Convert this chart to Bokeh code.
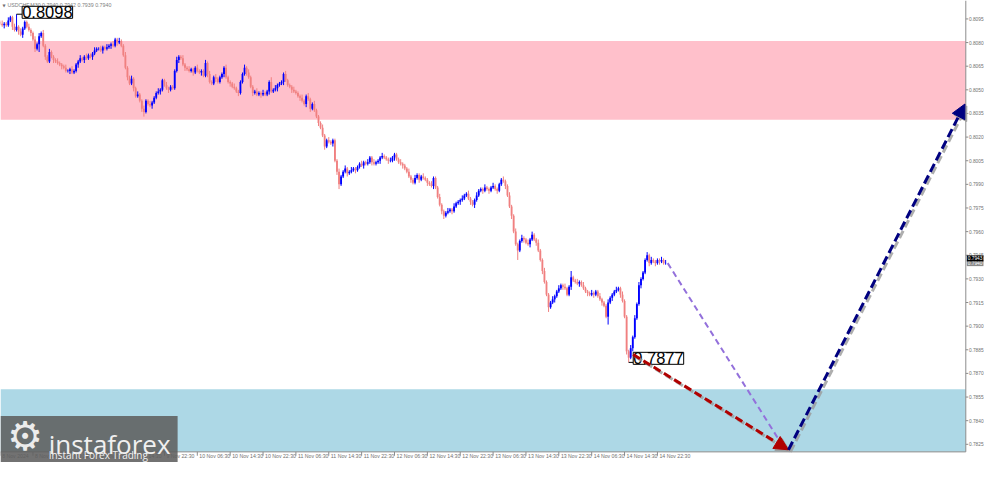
import numpy as np
from bokeh.plotting import figure
from bokeh.models import (BoxAnnotation, Label, Arrow, NormalHead, ColumnDataSource)
from bokeh.core.properties import value
from bokeh.embed import file_html
from bokeh.resources import INLINE

# ---------------- data ----------------
chart_title = "USDCHF,M30  0.7940 0.7942 0.7939 0.7940"

first_open_pips = 8093
close_pips = [
    8092, 8091, 8092, 8091, 8094, 8096, 8090, 8088, 8090, 8087,
    8085, 8089, 8093, 8090, 8088, 8086, 8082, 8076, 8079, 8084,
    8086, 8078, 8071, 8068, 8074, 8071, 8069, 8068, 8067, 8066,
    8065, 8064, 8062, 8062, 8063, 8061, 8062, 8066, 8068, 8070,
    8069, 8071, 8070, 8072, 8071, 8073, 8075, 8076, 8076, 8075,
    8077, 8076, 8077, 8078, 8079, 8078, 8082, 8080, 8081, 8078,
    8072, 8064, 8058, 8054, 8057, 8051, 8046, 8047, 8043, 8038,
    8036, 8043, 8041, 8040, 8042, 8045, 8048, 8049, 8050, 8056,
    8053, 8051, 8050, 8052, 8051, 8062, 8069, 8071, 8070, 8066,
    8064, 8063, 8062, 8063, 8061, 8064, 8062, 8061, 8062, 8059,
    8067, 8060, 8055, 8054, 8058, 8057, 8055, 8058, 8060, 8064,
    8058, 8055, 8054, 8052, 8051, 8049, 8048, 8055, 8060, 8064,
    8061, 8058, 8052, 8048, 8049, 8047, 8048, 8047, 8048, 8047,
    8049, 8055, 8049, 8050, 8051, 8053, 8054, 8055, 8060, 8056,
    8053, 8052, 8050, 8049, 8048, 8046, 8045, 8043, 8041, 8046,
    8044, 8038, 8041, 8037, 8033, 8029, 8026, 8021, 8014, 8018,
    8017, 8016, 8018, 8005, 7998, 7990, 7995, 7998, 8000, 7997,
    7998, 7999, 8000, 7999, 8001, 8003, 8002, 8004, 8003, 8004,
    8007, 8004, 8003, 8004, 8005, 8007, 8008, 8007, 8006, 8005,
    8005, 8007, 8009, 8006, 8004, 8003, 8002, 8000, 7998, 7995,
    7993, 7991, 7994, 7996, 7993, 7995, 7994, 7993, 7991, 7990,
    7989, 7994, 7988, 7982, 7977, 7973, 7970, 7972, 7973, 7974,
    7973, 7976, 7978, 7979, 7980, 7981, 7983, 7984, 7981, 7979,
    7977, 7980, 7983, 7986, 7987, 7986, 7988, 7987, 7986, 7988,
    7989, 7987, 7986, 7990, 7993, 7992, 7989, 7983, 7976, 7970,
    7960, 7952, 7948, 7954, 7956, 7955, 7953, 7952, 7955, 7958,
    7955, 7953, 7948, 7942, 7935, 7928, 7920, 7912, 7915, 7917,
    7919, 7922, 7924, 7926, 7925, 7924, 7920, 7925, 7931, 7929,
    7928, 7927, 7928, 7926, 7924, 7922, 7921, 7920, 7921, 7920,
    7922, 7919, 7917, 7915, 7913, 7906, 7915, 7918, 7920, 7922,
    7923, 7924, 7920, 7916, 7906, 7884, 7880, 7886, 7893, 7905,
    7914, 7926, 7930, 7934, 7942, 7945, 7940, 7942, 7941, 7940,
    7942, 7941, 7942, 7940, 7940,
]
wick_up_pips = [
    1, 2, 1, 1, 2, 1, 1, 2, 8, 1,
    2, 1, 1, 1, 2, 1, 1, 2, 1, 2,
    1, 2, 1, 1, 2, 1, 1, 1, 2, 1,
    1, 1, 2, 1, 1, 2, 1, 1, 1, 2,
    1, 1, 2, 1, 1, 1, 2, 1, 1, 2,
    1, 1, 2, 1, 1, 2, 1, 1, 2, 1,
    1, 2, 1, 1, 2, 1, 1, 2, 1, 1,
    2, 1, 1, 2, 1, 1, 1, 2, 1, 1,
    1, 2, 1, 1, 1, 1, 2, 1, 1, 2,
    1, 1, 2, 1, 1, 1, 2, 1, 1, 1,
    2, 1, 2, 1, 1, 2, 1, 1, 1, 1,
    2, 1, 1, 1, 2, 1, 1, 1, 1, 2,
    1, 2, 1, 1, 1, 2, 1, 1, 2, 1,
    1, 1, 3, 1, 2, 1, 1, 1, 1, 2,
    1, 1, 1, 2, 1, 1, 1, 2, 1, 1,
    2, 1, 1, 2, 1, 1, 1, 2, 1, 1,
    2, 1, 1, 1, 1, 2, 1, 1, 2, 1,
    1, 2, 1, 1, 1, 1, 2, 1, 1, 2,
    1, 1, 2, 1, 1, 1, 2, 1, 1, 1,
    2, 1, 1, 1, 1, 2, 1, 1, 1, 2,
    1, 1, 2, 1, 1, 1, 2, 1, 1, 1,
    2, 1, 1, 1, 2, 1, 1, 1, 2, 1,
    1, 2, 1, 1, 1, 2, 1, 1, 2, 1,
    1, 1, 2, 1, 1, 1, 2, 1, 1, 1,
    2, 1, 1, 1, 1, 2, 1, 1, 2, 1,
    1, 2, 1, 1, 2, 1, 1, 2, 1, 2,
    1, 1, 2, 1, 1, 2, 1, 1, 1, 2,
    1, 1, 2, 1, 1, 2, 1, 1, 4, 1,
    1, 2, 1, 1, 2, 1, 1, 1, 2, 1,
    1, 1, 2, 1, 1, 1, 2, 1, 1, 1,
    2, 1, 1, 2, 1, 1, 1, 2, 1, 2,
    1, 2, 1, 1, 1, 2, 1, 2, 1, 1,
    1, 1, 2, 1, 2,
]
wick_dn_pips = [
    1, 1, 2, 1, 1, 1, 2, 1, 1, 2,
    1, 2, 1, 1, 1, 2, 1, 2, 1, 5,
    1, 1, 2, 1, 1, 1, 2, 1, 1, 1,
    2, 1, 1, 1, 2, 1, 1, 1, 2, 1,
    1, 2, 1, 1, 1, 2, 1, 1, 1, 1,
    2, 1, 1, 1, 2, 1, 1, 2, 1, 1,
    1, 1, 2, 1, 1, 2, 1, 1, 1, 2,
    3, 1, 1, 1, 2, 1, 1, 1, 2, 1,
    1, 1, 2, 1, 1, 1, 1, 2, 1, 1,
    2, 1, 1, 1, 2, 1, 1, 1, 2, 1,
    1, 2, 1, 1, 1, 2, 1, 1, 1, 2,
    1, 1, 2, 1, 1, 1, 2, 1, 1, 1,
    2, 1, 1, 2, 1, 1, 1, 2, 1, 1,
    1, 2, 1, 1, 1, 2, 1, 1, 2, 1,
    1, 1, 2, 1, 1, 1, 2, 1, 1, 2,
    1, 2, 1, 1, 1, 2, 1, 1, 2, 1,
    1, 1, 2, 1, 2, 3, 1, 1, 1, 2,
    1, 1, 1, 2, 1, 1, 1, 2, 1, 1,
    1, 2, 1, 1, 1, 2, 1, 1, 1, 2,
    1, 1, 2, 1, 1, 1, 2, 1, 1, 1,
    2, 1, 1, 1, 2, 1, 1, 1, 2, 1,
    1, 2, 1, 1, 1, 2, 2, 1, 1, 1,
    2, 1, 1, 1, 2, 1, 1, 1, 1, 2,
    1, 2, 1, 1, 1, 2, 1, 1, 2, 1,
    1, 1, 2, 1, 1, 1, 2, 1, 1, 2,
    1, 1, 6, 1, 1, 2, 1, 1, 2, 1,
    1, 2, 1, 1, 2, 1, 1, 3, 1, 1,
    2, 1, 1, 1, 2, 1, 1, 1, 2, 1,
    1, 1, 2, 1, 1, 1, 2, 1, 1, 2,
    1, 1, 1, 2, 1, 1, 5, 1, 2, 1,
    1, 1, 2, 1, 1, 2, 3, 1, 2, 1,
    1, 1, 2, 1, 1, 1, 2, 1, 1, 2,
    1, 2, 1, 1, 1,
]

time_tick_bars = [0, 16, 32, 48, 64, 80, 96, 112, 128, 144, 160, 176, 192, 208,
                  224, 240, 256, 272, 288, 304, 320]
time_tick_labels = ["8 Nov 2024", "8 Nov 14:30", "8 Nov 22:30", "9 Nov 06:30",
                    "9 Nov 14:30", "9 Nov 22:30", "10 Nov 06:30", "10 Nov 14:30",
                    "10 Nov 22:30", "11 Nov 06:30", "11 Nov 14:30", "11 Nov 22:30",
                    "12 Nov 06:30", "12 Nov 14:30", "12 Nov 22:30", "13 Nov 06:30",
                    "13 Nov 14:30", "13 Nov 22:30", "14 Nov 06:30", "14 Nov 14:30",
                    "14 Nov 22:30"]
price_ticks = [0.7825, 0.7840, 0.7855, 0.7870, 0.7885, 0.7900, 0.7915, 0.7930,
               0.7945, 0.7960, 0.7975, 0.7990, 0.8005, 0.8020, 0.8035, 0.8050,
               0.8065, 0.8080, 0.8095]

resistance_zone = [0.8031, 0.8081]
support_zone_top = 0.7860

marked_high_bar, marked_high_price, marked_high_text = 8, 0.8098, "0.8098"
marked_low_bar, marked_low_price, marked_low_text = 306, 0.7877, "0.7877"

path_purple_bars = [325.0, 381.5]
path_purple_prices = [0.7940, 0.7823]
path_red_bars = [308.2, 383.8]
path_red_prices = [0.7882, 0.78215]
path_navy_bars = [383.8, 469.7]
path_navy_prices = [0.78215, 0.8041]

price_tag_values = [0.7940, 0.7943]
price_tag_texts = ["0.7940", "0.7943"]

# ---------------- layout helpers (reference pixel -> data) ----------------
PX_BAR = 2.0875
PX_PRICE = 6.135e-5
K_AT_0 = 0.19
P_AT_0 = 0.81067


def kx(X):
    return K_AT_0 + X / PX_BAR


def py(Y):
    return P_AT_0 - Y * PX_PRICE


AXIS_X = kx(981)      # right price scale line
AXIS_Y = py(467)      # bottom time scale line

# ---------------- candles ----------------
close = np.array(close_pips, dtype=float) / 1e4
opens = np.concatenate([[first_open_pips], close_pips[:-1]]).astype(float) / 1e4
hi = np.maximum(opens, close) + np.array(wick_up_pips) / 1e4
lo = np.minimum(opens, close) - np.array(wick_dn_pips) / 1e4
bars = np.arange(len(close))
colors = np.where(close >= opens, "#0000FF", "#F08080")
body_bot = np.minimum(opens, close)
body_top = np.maximum(np.maximum(opens, close), body_bot + 0.000015)

src = ColumnDataSource(dict(x=bars, hi=hi, lo=lo, top=body_top, bot=body_bot, c=colors))

p = figure(width=984, height=462, x_range=(kx(0), kx(1000)), y_range=(py(478), py(0)),
           output_backend="svg", toolbar_location=None,
           x_axis_location=None, y_axis_location=None,
           min_border_left=0, min_border_top=0, min_border_right=0, min_border_bottom=0)
p.background_fill_color = "white"
p.border_fill_color = "white"
p.outline_line_color = None
p.grid.visible = False

# zones
p.add_layout(BoxAnnotation(bottom=resistance_zone[0], top=resistance_zone[1], right=AXIS_X,
                           fill_color="#FFC0CB", fill_alpha=1.0, line_alpha=0,
                           level="underlay"))
p.add_layout(BoxAnnotation(top=support_zone_top, bottom=AXIS_Y, right=AXIS_X,
                           fill_color="#ADD8E6", fill_alpha=1.0, line_alpha=0,
                           level="underlay"))

# candles
p.segment(x0="x", y0="lo", x1="x", y1="hi", line_color="c", line_width=1, source=src)
p.vbar(x="x", width=0.9, top="top", bottom="bot", fill_color="c", line_color=None, source=src)

# price scale (right)
p.segment(x0=[AXIS_X, kx(0)], y0=[py(0), AXIS_Y], x1=[AXIS_X, AXIS_X], y1=[AXIS_Y, AXIS_Y],
          line_color="#8c8c8c", line_width=1)
p.segment(x0=[AXIS_X] * len(price_ticks), y0=price_ticks,
          x1=[kx(983.5)] * len(price_ticks), y1=price_ticks, line_color="#8c8c8c", line_width=1)
p.text(x=[kx(984.2)] * len(price_ticks), y=price_ticks, text=[f"{v:.4f}" for v in price_ticks],
       text_font=value("Liberation Sans"), text_font_size="4.8px", text_color="#707070",
       text_align="left", text_baseline="middle")

# time scale (bottom)
p.segment(x0=time_tick_bars, y0=[AXIS_Y] * len(time_tick_bars),
          x1=time_tick_bars, y1=[py(471)] * len(time_tick_bars),
          line_color="#8c8c8c", line_width=1)
p.text(x=[b + 1.0 for b in time_tick_bars], y=[py(468.5)] * len(time_tick_bars),
       text=time_tick_labels, text_font=value("Liberation Sans"), text_font_size="5.2px",
       text_color="#707070", text_align="left", text_baseline="top")

# title
p.add_layout(Label(x=kx(2), y=py(2.5), text="\u25bc", text_font="DejaVu Sans",
                   text_font_size="4px", text_color="#707070", text_baseline="top"))
p.add_layout(Label(x=kx(7), y=py(1.8), text=chart_title, text_font="Liberation Sans",
                   text_font_size="5.3px", text_color="#808080", text_baseline="top"))

# marked extremes
p.segment(x0=[marked_high_bar, marked_low_bar], y0=[marked_high_price, marked_low_price],
          x1=[kx(22), kx(643)], y1=[marked_high_price, marked_low_price],
          line_color="#000000", line_width=1)
p.add_layout(Label(x=kx(22), y=py(6), text=marked_high_text, text_font="Liberation Sans",
                   text_font_size="16.5px", text_color="#000000", text_align="left",
                   text_baseline="top", background_fill_color="white",
                   border_line_color="black", border_line_width=1, padding=0))
p.add_layout(Label(x=kx(643), y=py(364), text=marked_low_text, text_font="Liberation Sans",
                   text_font_size="16.5px", text_color="#000000", text_align="left",
                   text_baseline="top", background_fill_color="white",
                   border_line_color="black", border_line_width=1, padding=0))

# forecast paths (shadows first)
sdx, sdy = 2 / PX_BAR, -2 * PX_PRICE
for bx, pr in [(path_red_bars, path_red_prices), (path_navy_bars, path_navy_prices)]:
    p.add_layout(Arrow(x_start=bx[0] + sdx, y_start=pr[0] + sdy, x_end=bx[1] + sdx,
                       y_end=pr[1] + sdy, line_color="#9a9a9a", line_width=3,
                       line_dash="8 4", line_alpha=0.8,
                       end=NormalHead(size=14, fill_color="#9a9a9a", line_color="#9a9a9a",
                                      fill_alpha=0.8, line_alpha=0.8)))
p.add_layout(Arrow(x_start=path_purple_bars[0], y_start=path_purple_prices[0],
                   x_end=path_purple_bars[1], y_end=path_purple_prices[1],
                   line_color="#9370DB", line_width=2, line_dash="6 4", end=None))
p.add_layout(Arrow(x_start=path_red_bars[0], y_start=path_red_prices[0],
                   x_end=path_red_bars[1], y_end=path_red_prices[1],
                   line_color="#B00000", line_width=3, line_dash="8 4",
                   end=NormalHead(size=14, fill_color="#B00000", line_color="#B00000")))
p.add_layout(Arrow(x_start=path_navy_bars[0], y_start=path_navy_prices[0],
                   x_end=path_navy_bars[1], y_end=path_navy_prices[1],
                   line_color="#000080", line_width=3, line_dash="9 4",
                   end=NormalHead(size=14, fill_color="#000080", line_color="#000080")))

# price tags on the scale
for v, t, bg in zip(price_tag_values, price_tag_texts, ["#8a8a8a", "#000000"]):
    p.add_layout(Label(x=kx(982.0), y=v, text=t, text_font="Liberation Sans",
                       text_font_size="4.8px", text_color="white", text_align="left",
                       text_baseline="middle", background_fill_color=bg, padding=1))

# logo
p.add_layout(BoxAnnotation(right=kx(180), top=py(430),
                           fill_color="#5e5e5e", fill_alpha=0.88, line_alpha=0,
                           level="overlay"))
p.add_layout(Label(x=kx(25), y=py(451), text="\u2699", text_font="DejaVu Sans",
                   text_font_size="40px", text_color="#ececec", text_align="center",
                   text_baseline="middle", level="overlay"))
p.add_layout(Label(x=kx(49), y=py(459), text="instaforex", text_font="Open Sans",
                   text_font_size="26px", text_color="#f0f0f0", text_align="left",
                   text_baseline="alphabetic", level="overlay"))
p.add_layout(Label(x=kx(49), y=py(470.5), text="Instant Forex Trading", text_font="Open Sans",
                   text_font_size="10px", text_color="#f0f0f0", text_align="left",
                   text_baseline="alphabetic", level="overlay"))

open("out.html", "w").write(file_html(p, INLINE))
